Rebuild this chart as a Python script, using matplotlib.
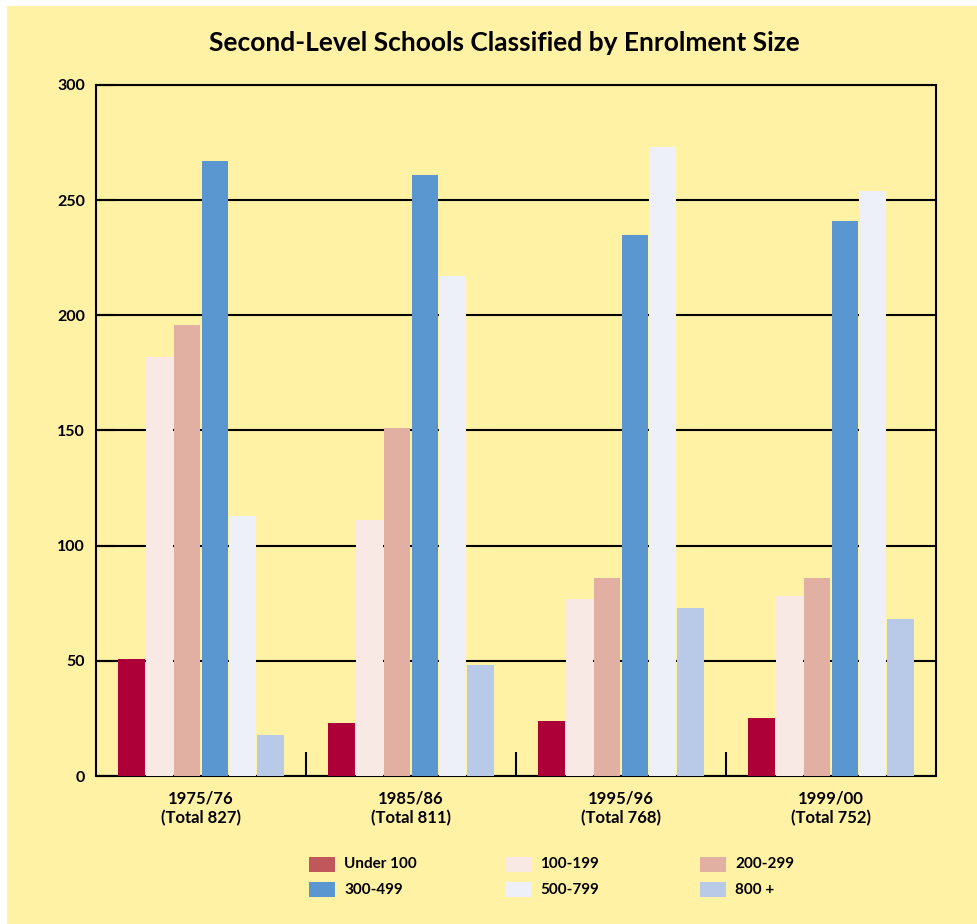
import matplotlib
matplotlib.use("Agg")
import matplotlib.pyplot as plt
from matplotlib.patches import Rectangle
import numpy as np

plt.rcParams['font.family'] = ['Lato', 'DejaVu Sans']

years = ["1975/76", "1985/86", "1995/96", "1999/00"]
totals = [827, 811, 768, 752]
series_names = ["Under 100", "100-199", "200-299", "300-499", "500-799", "800 +"]
under100 = [51, 23, 24, 25]
s100_199 = [182, 111, 77, 78]
s200_299 = [196, 151, 86, 86]
s300_499 = [267, 261, 235, 241]
s500_799 = [113, 217, 273, 254]
s800plus = [18, 48, 73, 68]
series = [under100, s100_199, s200_299, s300_499, s500_799, s800plus]
bar_colors = ["#AE0038", "#F8E9E5", "#E2AFA3", "#5A96D0", "#EEF0F9", "#B8CAE8"]
legend_colors = ["#C0575A", "#F8E9E5", "#E2AFA3", "#5A96D0", "#EEF0F9", "#B8CAE8"]
bg = "#FFF2A5"

fig = plt.figure(figsize=(9.78, 9.24), dpi=100)
fig.patch.set_facecolor("white")
fig.patches.append(Rectangle((7/978, 0), 1, 1 - 6/924, transform=fig.transFigure,
                             facecolor=bg, edgecolor="none", zorder=-10))

ax = fig.add_axes([96/978, 1 - 776/924, 840/978, 691/924])
ax.set_facecolor(bg)

x = np.arange(len(years))
pitch = 0.132
width = 0.126
for i, (vals, c) in enumerate(zip(series, bar_colors)):
    ax.bar(x + (i - 2.5) * pitch, vals, width=width, color=c, zorder=3, linewidth=0)

ax.set_xlim(-0.5, 3.5)
ax.set_ylim(0, 300)
ax.set_yticks([0, 50, 100, 150, 200, 250, 300])
ax.yaxis.grid(True, color="black", linewidth=1.5, zorder=1)
ax.set_axisbelow(True)
ax.tick_params(axis="y", direction="in", length=14, width=1.5, labelsize=11.5, pad=8)
for lab in ax.get_yticklabels():
    lab.set_fontweight("bold")

ax.set_xticks([0.5, 1.5, 2.5])
ax.set_xticklabels([])
ax.tick_params(axis="x", direction="in", length=17, width=1.5)
for s in ax.spines.values():
    s.set_linewidth(1.5)

for xi, yr, tot in zip(x, years, totals):
    ax.text(xi, -6.5, f"{yr}\n(Total {tot})", ha="center", va="top", fontsize=12,
            fontweight="bold", linespacing=1.2)

fig.text(504/978, 1 - 43/924, "Second-Level Schools Classified by Enrolment Size",
         ha="center", va="center", fontsize=19, fontweight="bold")

# legend (manual, 3 columns x 2 rows)
col_x = [309, 505, 700]
row_y = [864.5, 889.5]
order = [(0, 0), (1, 0), (2, 0), (0, 1), (1, 1), (2, 1)]
for name, c, (ci, ri) in zip(series_names, legend_colors, order):
    x0 = col_x[ci]
    y0 = row_y[ri]
    fig.patches.append(Rectangle((x0 / 978, 1 - (y0 + 7.5) / 924), 26 / 978, 15 / 924,
                                 transform=fig.transFigure, facecolor=c, edgecolor="none"))
    fig.text((x0 + 35) / 978, 1 - y0 / 924, name, ha="left", va="center",
             fontsize=11, fontweight="bold")

fig.savefig("out.png", dpi=100, facecolor=fig.get_facecolor())
